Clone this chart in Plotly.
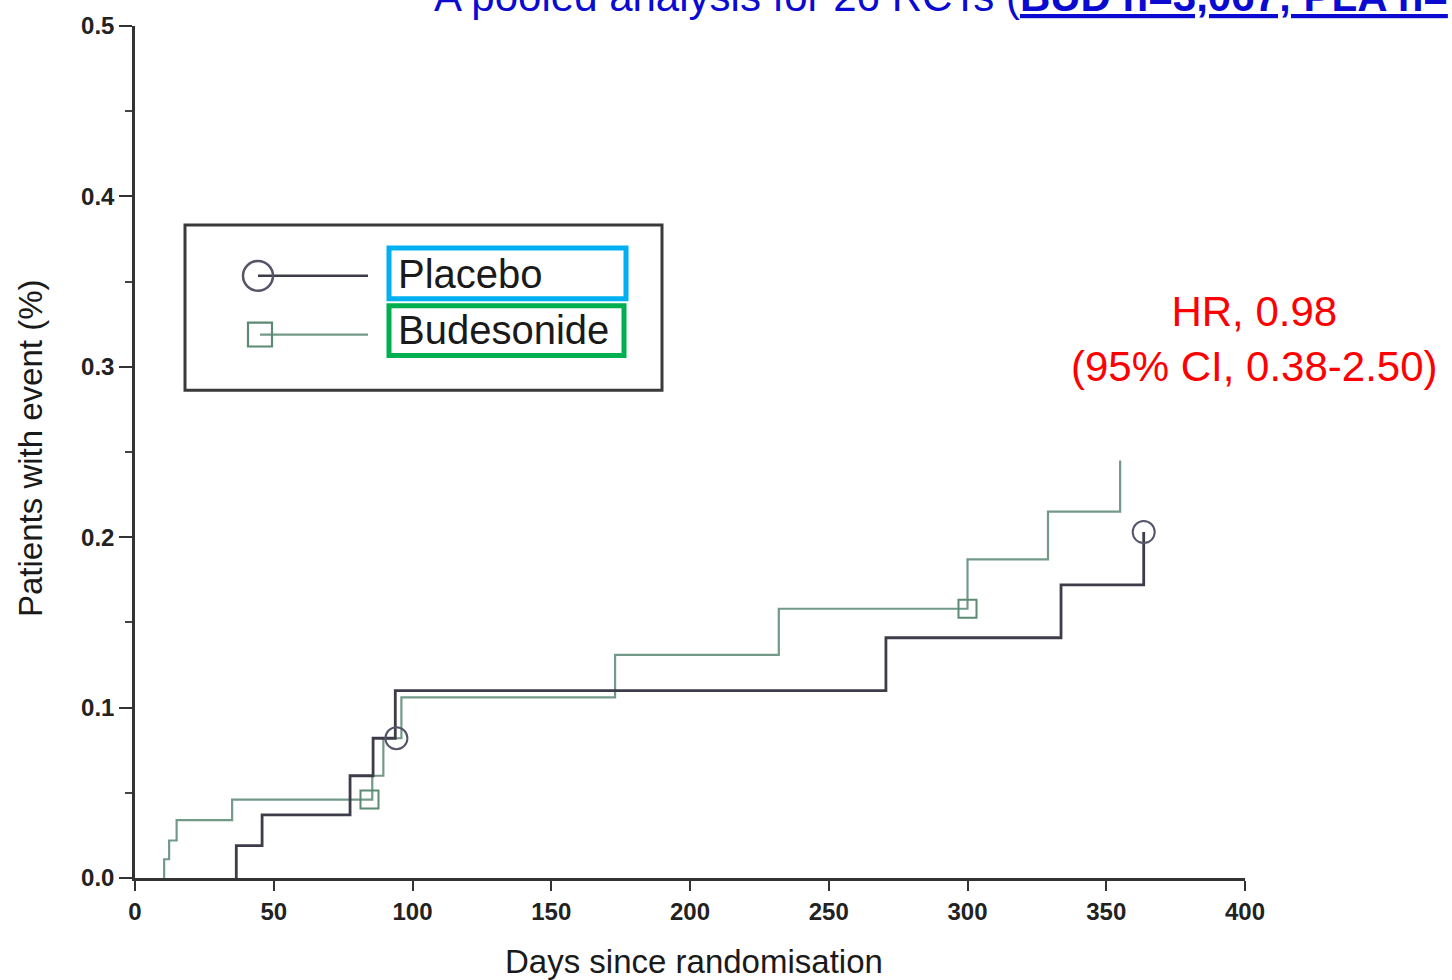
import plotly.graph_objects as go

# ---- data ----
placebo_days = [36.5, 45.8, 77.5, 85.8, 93.8, 270.6, 333.7, 363.5]
placebo_vals = [0.019, 0.037, 0.060, 0.082, 0.110, 0.141, 0.172, 0.203]
placebo_mark_days = [94.2, 363.5]
placebo_mark_vals = [0.082, 0.203]

bud_days = [10.5, 12.3, 15.0, 35.0, 85.5, 89.5, 96.0, 173.0, 232.0, 300.0, 329.0, 355.0]
bud_vals = [0.011, 0.022, 0.034, 0.046, 0.060, 0.082, 0.106, 0.131, 0.158, 0.187, 0.215, 0.245]
bud_mark_days = [84.5, 300.0]
bud_mark_vals = [0.046, 0.158]

x_ticks = [0, 50, 100, 150, 200, 250, 300, 350, 400]
y_ticks = [0.0, 0.1, 0.2, 0.3, 0.4, 0.5]
y_tick_text = ["0.0", "0.1", "0.2", "0.3", "0.4", "0.5"]

series_names = ["Placebo", "Budesonide"]
x_title = "Days since randomisation"
y_title = "Patients with event (%)"
hr_text = "HR, 0.98<br>(95% CI, 0.38-2.50)"
title_plain = "A pooled analysis for 26 RCTs ("
title_bold = "BUD n=3,067; PLA n="

PLA_COLOR = "#3d3d4a"
BUD_COLOR = "#739a89"
PLA_MARK = "#55556a"
BUD_MARK = "#5d8a73"

# ---- layout geometry (pixels) ----
W, H = 1452, 980
L, R, T, B = 135, 1245, 22, 878


def px(x):
    return (x - L) / (R - L)


def py(y):
    return (B - y) / (B - T)


def steps(days, vals):
    return [days[0]] + list(days), [0.0] + list(vals)


fig = go.Figure()

sx, sy = steps(bud_days, bud_vals)
fig.add_trace(go.Scatter(x=sx, y=sy, mode="lines", line=dict(shape="hv", color=BUD_COLOR, width=2.2),
                         name=series_names[1], showlegend=False))
fig.add_trace(go.Scatter(x=bud_mark_days, y=bud_mark_vals, mode="markers",
                         marker=dict(symbol="square-open", size=18, color=BUD_MARK, line=dict(width=2)),
                         showlegend=False))

sx, sy = steps(placebo_days, placebo_vals)
fig.add_trace(go.Scatter(x=sx, y=sy, mode="lines", line=dict(shape="hv", color=PLA_COLOR, width=2.8),
                         name=series_names[0], showlegend=False))
fig.add_trace(go.Scatter(x=placebo_mark_days, y=placebo_mark_vals, mode="markers",
                         marker=dict(symbol="circle-open", size=22, color=PLA_MARK, line=dict(width=2)),
                         showlegend=False))

FONT = "Liberation Sans, Arial, sans-serif"

fig.update_xaxes(range=[0, 400], tickvals=x_ticks, ticktext=["<b>%d</b>" % v for v in x_ticks],
                 ticks="outside", ticklen=10, tickwidth=2,
                 tickcolor="#333", showline=True, linecolor="#333", linewidth=2.5, showgrid=False,
                 zeroline=False, tickfont=dict(family=FONT, size=24, color="#222"),
                 ticklabelstandoff=0)
fig.update_yaxes(range=[0, 0.5], tickvals=y_ticks, ticktext=["<b>%s</b>" % t for t in y_tick_text],
                 ticks="outside", ticklen=13, tickwidth=2,
                 tickcolor="#333", showline=True, linecolor="#333", linewidth=2.5, showgrid=False,
                 zeroline=False, tickfont=dict(family=FONT, size=24, color="#222"),
                 minor=dict(dtick=0.05, tick0=0, ticks="outside", ticklen=7, tickwidth=1.5, tickcolor="#444"))

shapes = []
# legend box
shapes.append(dict(type="rect", xref="paper", yref="paper", x0=px(185), x1=px(662), y0=py(388), y1=py(222),
                   line=dict(color="#3a3a3a", width=3), fillcolor="rgba(0,0,0,0)"))
# legend placebo symbol
shapes.append(dict(type="line", xref="paper", yref="paper", x0=px(258), x1=px(368), y0=py(273), y1=py(273),
                   line=dict(color=PLA_COLOR, width=2.5)))
shapes.append(dict(type="circle", xref="paper", yref="paper", x0=px(243), x1=px(273), y0=py(288), y1=py(258),
                   line=dict(color=PLA_MARK, width=2.5)))
# legend budesonide symbol
shapes.append(dict(type="line", xref="paper", yref="paper", x0=px(260), x1=px(368), y0=py(332), y1=py(332),
                   line=dict(color=BUD_COLOR, width=2.2)))
shapes.append(dict(type="rect", xref="paper", yref="paper", x0=px(248), x1=px(272), y0=py(344), y1=py(320),
                   line=dict(color=BUD_MARK, width=2.2)))
# highlight boxes
shapes.append(dict(type="rect", xref="paper", yref="paper", x0=px(389), x1=px(626), y0=py(296), y1=py(245),
                   line=dict(color="#00b0f0", width=5)))
shapes.append(dict(type="rect", xref="paper", yref="paper", x0=px(389), x1=px(624), y0=py(353), y1=py(303),
                   line=dict(color="#00b050", width=5)))

annotations = [
    dict(text=series_names[0], xref="paper", yref="paper", x=px(396), y=py(271), xanchor="left",
         yanchor="middle", showarrow=False, font=dict(family=FONT, size=40, color="#1a1a1a")),
    dict(text=series_names[1], xref="paper", yref="paper", x=px(396), y=py(327), xanchor="left",
         yanchor="middle", showarrow=False, font=dict(family=FONT, size=40, color="#1a1a1a")),
    dict(text=hr_text, xref="paper", yref="paper", x=px(1254), y=py(336), xanchor="center",
         yanchor="middle", showarrow=False, align="center", font=dict(family=FONT, size=42, color="#ff0000")),
    dict(text=x_title, xref="paper", yref="paper", x=px(694), y=py(962), xanchor="center",
         yanchor="middle", showarrow=False, font=dict(family=FONT, size=33, color="#1a1a1a")),
    dict(text=y_title, xref="paper", yref="paper", x=px(30), y=py(447), xanchor="center",
         yanchor="middle", showarrow=False, textangle=-90, font=dict(family=FONT, size=33, color="#1a1a1a")),
    dict(text=title_plain + "<b><u>" + title_bold + "</u></b>", xref="paper", yref="paper", x=px(432),
         y=py(-8), xanchor="left", yanchor="middle", showarrow=False,
         font=dict(family=FONT, size=42, color="#0a0ad0")),
]

fig.update_layout(width=W, height=H, margin=dict(l=L, r=W - R, t=T, b=H - B),
                  paper_bgcolor="white", plot_bgcolor="white", shapes=shapes, annotations=annotations,
                  showlegend=False, font=dict(family=FONT))

fig.write_html("out.html", config={"displayModeBar": False})
